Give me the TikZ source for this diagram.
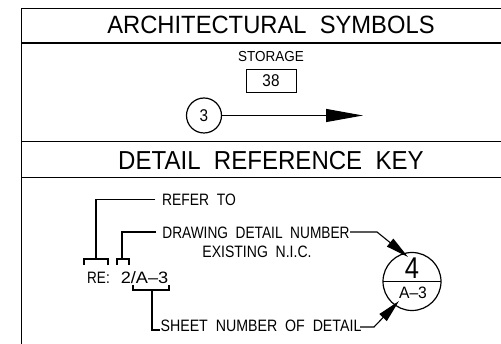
\documentclass[tikz,border=0pt]{standalone}
\usepackage{fontspec}
\setmainfont{Liberation Sans}
\usetikzlibrary{arrows.meta}
\tikzset{
  x=1pt,y=-1pt,
  frameline/.style={line width=1.2pt,black},
  leader/.style={line width=1.1pt,black},
  lbl/.style={inner sep=0pt,outer sep=0pt,anchor=center,transform shape,black},
  bighead/.style={-{Triangle[length=37pt,width=13pt]}},
  smallhead/.style={-{Triangle[length=23pt,width=10pt]}},
  bubble/.style={circle,draw,line width=1.2pt,inner sep=0pt,outer sep=0pt},
}
\newcommand{\fsz}[1]{\fontsize{#1}{#1}\selectfont}
\begin{document}
\begin{tikzpicture}
\useasboundingbox (0,0) rectangle (501,344);
% frame
\coordinate (tl) at (21.5,8.5); \coordinate (tr) at (501,8.5); \coordinate (bl) at (21.5,344);
\draw[frameline] (tr) -- (tl) -- (bl);
\coordinate (a1) at (21.5,43); \coordinate (a2) at (501,43);
\coordinate (b1) at (21.5,141.5); \coordinate (b2) at (501,141.5);
\coordinate (c1) at (21.5,177.8); \coordinate (c2) at (501,177.8);
\draw[frameline] (a1) -- (a2);
\draw[frameline] (b1) -- (b2);
\draw[frameline] (c1) -- (c2);
% titles
\node[lbl,xscale=.95] (t1) at (271,25) {\fsz{25}ARCHITECTURAL\ \ SYMBOLS};
\node[lbl,xscale=.925] (t2) at (271,160.5) {\fsz{26}DETAIL\ \ REFERENCE\ \ KEY};
% storage
\node[lbl,xscale=.93] (st) at (271,57) {\fsz{14.5}STORAGE};
\node[draw,line width=.9pt,minimum width=50pt,minimum height=23pt,inner sep=0pt,outer sep=0pt] (box) at (271,80.5) {};
\node[lbl,xscale=.9] (num) at (271,81) {\fsz{17}38};
\node[bubble,minimum size=35pt] (c3) at (204,115.5) {};
\node[lbl,xscale=.9] (three) at (204,115.5) {\fsz{17}3};
\coordinate (tip) at (363,115.5);
\draw[leader,bighead] (c3) -- (tip);
% key
\node[lbl,xscale=.84] (refer) at (199,200) {\fsz{16.5}REFER\ \ TO};
\node[lbl,xscale=.83] (ddn) at (256,233) {\fsz{16.5}DRAWING\ \ DETAIL\ \ NUMBER};
\node[lbl,xscale=.85] (nic) at (257,252) {\fsz{16.5}EXISTING\ \ N.I.C.};
\node[lbl,xscale=.86] (sheet) at (261,326) {\fsz{16.5}SHEET\ \ NUMBER\ \ OF\ \ DETAIL};
\node[lbl,xscale=.82] (refx) at (98.5,278) {\fsz{16.5}RE:};
\node[lbl,xscale=1.1] (two) at (144.5,278) {\fsz{16.5}2/A--3};
% brackets and leaders
\coordinate (r0) at (155,199.5); \coordinate (r1) at (96,199.5); \coordinate (r2) at (96,259);
\draw[leader] (r0) -- (r1) -- (r2);
\draw[leader] (84,265) -- (84,259) -- (108,259) -- (108,265);
\coordinate (d0) at (156,232); \coordinate (d1) at (122,232); \coordinate (d2) at (122,259);
\draw[leader] (d0) -- (d1) -- (d2);
\draw[leader] (117,265) -- (117,259) -- (129,259) -- (129,265);
\draw[leader] (133,285) -- (133,290) -- (169,290) -- (169,285);
\coordinate (s0) at (152,290); \coordinate (s1) at (152,330); \coordinate (s2) at (160,330);
\draw[leader] (s0) -- (s1) -- (s2);
% detail bubble
\node[bubble,minimum size=58pt] (bub) at (412,281.5) {};
\draw[line width=1.6pt] (bub.west) -- (bub.east);
\node[lbl,xscale=.85] (four) at (412,268) {\fsz{30}4};
\node[lbl,xscale=.95] (sh) at (413,293) {\fsz{16.5}A--3};
\coordinate (k1) at (350,232); \coordinate (k2) at (377,232); \coordinate (k3) at (408,257);
\draw[leader,smallhead] (k1) -- (k2) -- (k3);
\coordinate (m1) at (360,327); \coordinate (m2) at (374,327); \coordinate (m3) at (399,301);
\draw[leader,smallhead] (m1) -- (m2) -- (m3);
\end{tikzpicture}
\end{document}
